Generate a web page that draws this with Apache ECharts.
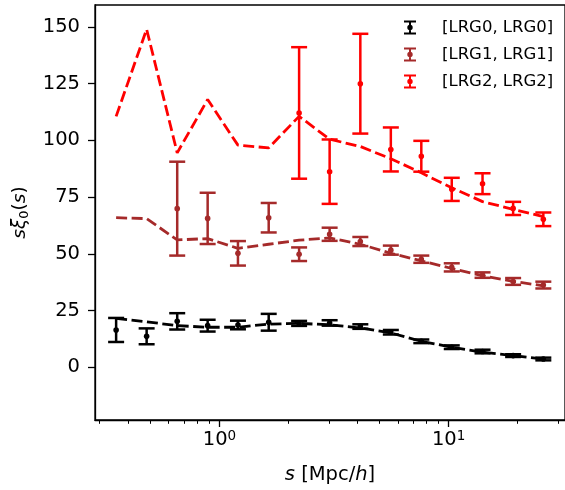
<!DOCTYPE html>
<html>
<head>
<meta charset="utf-8">
<script src="https://cdn.jsdelivr.net/npm/echarts@6/dist/echarts.min.js"></script>
<style>
html,body{margin:0;padding:0;background:#fff;}
#chart{width:565px;height:490px;}
</style>
</head>
<body>
<div id="chart"></div>
<script>
// separation bin centres s [Mpc/h]
const sValues = [0.354, 0.481, 0.654, 0.888, 1.204, 1.64, 2.226, 3.025, 4.118, 5.595, 7.6, 10.32, 14.06, 19.12, 25.9];

// measurements s*xi0(s) and errors
const lrg0Data = [16.4, 13.6, 20.2, 18.3, 18.6, 19.8, 19.3, 19.5, 17.9, 15.4, 11.4, 8.8, 6.9, 5.1, 3.6];
const lrg0Err  = [5.3, 3.5, 3.6, 2.6, 1.9, 3.7, 1.1, 1.2, 1.0, 1.0, 0.8, 0.8, 0.8, 0.6, 0.6];
const lrg1Data = [null, null, 69.9, 65.6, 50.2, 65.9, 49.8, 58.6, 55.4, 51.6, 47.6, 44.0, 40.6, 37.8, 36.2];
const lrg1Err  = [null, null, 20.7, 11.3, 5.4, 6.5, 3.0, 2.9, 2.0, 2.0, 1.6, 1.8, 1.2, 1.5, 1.5];
const lrg2Data = [null, null, null, null, null, null, 112.1, 86.2, 125.0, 96.0, 93.0, 78.4, 80.9, 70.0, 65.2];
const lrg2Err  = [null, null, null, null, null, null, 29.0, 14.2, 22.0, 9.7, 6.8, 5.1, 4.6, 2.9, 3.0];

// model curves (dashed)
const lrg0Model = [21.5, 20.0, 18.3, 17.6, 17.6, 19.0, 19.3, 18.7, 17.3, 15.1, 11.4, 8.8, 6.6, 5.1, 3.6];
const lrg1Model = [65.9, 65.5, 56.1, 56.7, 52.4, 54.2, 56.0, 57.0, 54.2, 50.2, 46.9, 43.5, 40.3, 37.8, 35.9];
const lrg2Model = [110.6, 149.0, 94.5, 118.0, 97.9, 96.7, 110.6, 100.5, 97.3, 91.9, 85.7, 79.1, 73.0, 69.6, 66.4];

// tick labels
const yTicks = [0, 25, 50, 75, 100, 125, 150];
const xMajorTicks = [1, 10];
const xMinorTicks = [0.3, 0.4, 0.5, 0.6, 0.7, 0.8, 0.9, 2, 3, 4, 5, 6, 7, 8, 9, 20, 30];

const names = ['[LRG0, LRG0]', '[LRG1, LRG1]', '[LRG2, LRG2]'];
const colors = ['#000000', '#a52a2a', '#ff0000'];

const FONT = 'DejaVu Sans';
const iconPath = 'path://M0,0H12V2H7V12H12V14H0V12H5V2H0Z M3.3,7A2.7,2.7 0 1 1 8.7,7A2.7,2.7 0 1 1 3.3,7Z';

function errData(vals, errs) {
  const out = [];
  for (let i = 0; i < sValues.length; i++) {
    if (vals[i] !== null) out.push([sValues[i], vals[i], errs[i]]);
  }
  return out;
}
function modelData(vals) {
  return sValues.map((s, i) => [s, vals[i]]);
}
function errRender(color) {
  return function (params, api) {
    const x = api.value(0), y = api.value(1), e = api.value(2);
    const p = api.coord([x, y]);
    const t = api.coord([x, y + e]);
    const b = api.coord([x, y - e]);
    const w = 8;
    const st = { stroke: color, lineWidth: 2.5 };
    return {
      type: 'group',
      children: [
        { type: 'line', shape: { x1: p[0], y1: t[1], x2: p[0], y2: b[1] }, style: st },
        { type: 'line', shape: { x1: p[0] - w, y1: t[1], x2: p[0] + w, y2: t[1] }, style: st },
        { type: 'line', shape: { x1: p[0] - w, y1: b[1], x2: p[0] + w, y2: b[1] }, style: st },
        { type: 'circle', shape: { cx: p[0], cy: p[1], r: 2.8 }, style: { fill: color } }
      ]
    };
  };
}

const dataSets = [[lrg0Data, lrg0Err], [lrg1Data, lrg1Err], [lrg2Data, lrg2Err]];
const models = [lrg0Model, lrg1Model, lrg2Model];

const series = [];
for (let k = 0; k < 3; k++) {
  series.push({
    name: 'model' + k,
    type: 'line',
    data: modelData(models[k]),
    showSymbol: false,
    silent: true,
    lineStyle: { color: colors[k], width: 2.8, type: [11, 4.5] },
    itemStyle: { color: colors[k] },
    z: 2
  });
  series.push({
    name: names[k],
    type: 'custom',
    data: errData(dataSets[k][0], dataSets[k][1]),
    encode: { x: 0, y: 1 },
    renderItem: errRender(colors[k]),
    itemStyle: { color: colors[k] },
    z: 3
  });
}

const chart = echarts.init(document.getElementById('chart'), null, { renderer: 'canvas' });
chart.setOption({
  animation: false,
  backgroundColor: '#fff',
  grid: { left: 95, top: 5, width: 474, bottom: 69, show: true, borderColor: '#000', borderWidth: 1.3, containLabel: false },
  legend: {
    data: names.map(n => ({ name: n, icon: iconPath })),
    orient: 'vertical',
    left: 399,
    top: 14,
    itemWidth: 12,
    itemHeight: 14,
    itemGap: 10,
    selectedMode: false,
    textStyle: { fontFamily: FONT, fontSize: 16.5, color: '#000', lineHeight: 14, padding: [0, 0, 0, 21] }
  },
  xAxis: [
    {
      type: 'log',
      logBase: 10,
      min: 0.2863,
      max: 32.2,
      position: 'bottom',
      axisLine: { show: true, onZero: false, lineStyle: { color: '#000', width: 1.3 } },
      axisTick: { show: true, customValues: xMajorTicks, length: 7, lineStyle: { color: '#000', width: 1.3 } },
      axisLabel: {
        customValues: xMajorTicks,
        margin: 9,
        formatter: function (v) { return '{a|10}{b|' + Math.round(Math.log10(v)) + '}'; },
        rich: {
          a: { fontFamily: FONT, fontSize: 19.5, color: '#000', lineHeight: 22 },
          b: { fontFamily: FONT, fontSize: 13.5, color: '#000', lineHeight: 12, verticalAlign: 'top' }
        }
      },
      splitLine: { show: false },
      name: '{i|s}{n| [Mpc/}{i|h}{n|]}',
      nameLocation: 'middle',
      nameGap: 45,
      nameTextStyle: {
        rich: {
          i: { fontFamily: FONT, fontSize: 19.5, fontStyle: 'italic', color: '#000' },
          n: { fontFamily: FONT, fontSize: 19.5, color: '#000' }
        }
      }
    },
    {
      type: 'log',
      logBase: 10,
      min: 0.2863,
      max: 32.2,
      position: 'bottom',
      offset: 0,
      axisLine: { show: false, onZero: false },
      axisTick: { show: true, customValues: xMinorTicks, length: 3.8, lineStyle: { color: '#000', width: 1 } },
      axisLabel: { show: false },
      splitLine: { show: false }
    }
  ],
  yAxis: {
    type: 'value',
    min: -23.3,
    max: 159.7,
    axisLine: { show: true, onZero: false, lineStyle: { color: '#000', width: 1.3 } },
    axisTick: { show: true, customValues: yTicks, length: 7, lineStyle: { color: '#000', width: 1.3 } },
    axisLabel: { customValues: yTicks, margin: 15, fontFamily: FONT, fontSize: 19.5, color: '#000' },
    splitLine: { show: false },
    name: '{i|s}{i|ξ}{sub|0}{n|(}{i|s}{n|)}',
    nameLocation: 'middle',
    nameRotate: 90,
    nameGap: 64,
    nameTextStyle: {
      rich: {
        i: { fontFamily: FONT, fontSize: 18.5, fontStyle: 'italic', color: '#000', lineHeight: 22 },
        n: { fontFamily: FONT, fontSize: 18.5, color: '#000', lineHeight: 22 },
        sub: { fontFamily: FONT, fontSize: 13, color: '#000', lineHeight: 12, verticalAlign: 'bottom' }
      }
    }
  },
  series: series
});
</script>
</body>
</html>
